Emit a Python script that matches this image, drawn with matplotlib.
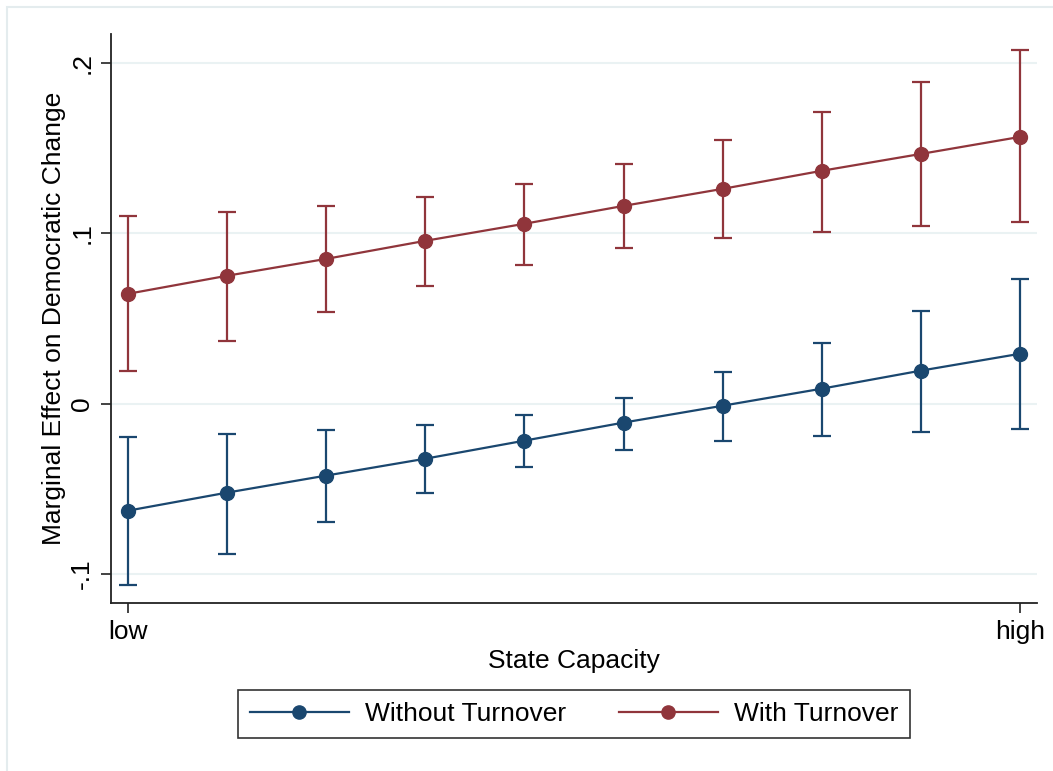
import matplotlib.pyplot as plt
import numpy as np
from matplotlib.patches import Rectangle

plt.rcParams['font.family'] = ['Liberation Sans', 'DejaVu Sans']

# state capacity steps, low -> high
steps = np.arange(10)
tick_pos = [0, 9]
tick_lab = ['low', 'high']

# with turnover (estimate, lower, upper)
with_est = [0.0645, 0.0751, 0.0850, 0.0956, 0.1056, 0.1161, 0.1261, 0.1367, 0.1466, 0.1566]
with_lo = [0.0194, 0.0370, 0.0540, 0.0690, 0.0815, 0.0915, 0.0974, 0.1009, 0.1044, 0.1067]
with_hi = [0.1103, 0.1126, 0.1161, 0.1214, 0.1290, 0.1408, 0.1548, 0.1713, 0.1889, 0.2076]

# without turnover
wo_est = [-0.0628, -0.0522, -0.0422, -0.0323, -0.0217, -0.0111, -0.0012, 0.0088, 0.0194, 0.0293]
wo_lo = [-0.1067, -0.0880, -0.0692, -0.0522, -0.0370, -0.0270, -0.0217, -0.0188, -0.0164, -0.0147]
wo_hi = [-0.0194, -0.0176, -0.0152, -0.0123, -0.0065, 0.0035, 0.0188, 0.0358, 0.0545, 0.0733]

blue = '#1a476f'
red = '#90353b'

fig = plt.figure(figsize=(10.53, 7.71), dpi=100)
ax = fig.add_axes([111/1053, 1-603/771, (1037-111)/1053, (603-34)/771])

# outer graph frame (stata style)
fig.patches.append(Rectangle((7/1053, -0.05), 1.1, 1 - 7/771 + 0.05, transform=fig.transFigure,
                             fill=False, edgecolor='#e4ecee', lw=1.5))

for est, lo, hi, c, lab in [(wo_est, wo_lo, wo_hi, blue, 'Without Turnover'),
                            (with_est, with_lo, with_hi, red, 'With Turnover')]:
    est = np.array(est)
    yerr = [est - np.array(lo), np.array(hi) - est]
    ax.errorbar(steps, est, yerr=yerr, fmt='none', ecolor=c, elinewidth=1.6,
                capsize=6.5, capthick=1.6)
    ax.plot(steps, est, color=c, lw=1.6, marker='o', ms=10, label=lab)

ax.set_xlim(-0.1715, 9.1715)
ax.set_ylim(-0.117, 0.217)
ax.set_yticks([-0.1, 0, 0.1, 0.2])
ax.set_yticklabels(['-.1', '0', '.1', '.2'], rotation=90, va='center')
ax.set_xticks(tick_pos)
ax.set_xticklabels(tick_lab)
ax.tick_params(labelsize=19, length=7, width=1.2, color='#222222', pad=5)
ax.grid(axis='y', color='#eaf2f3', lw=1.5)
ax.set_axisbelow(True)
for s in ['top', 'right']:
    ax.spines[s].set_visible(False)
for s in ['left', 'bottom']:
    ax.spines[s].set_linewidth(1.3)
    ax.spines[s].set_color('#222222')

ax.set_xlabel('State Capacity', fontsize=19, labelpad=4)
ax.set_ylabel('Marginal Effect on Democratic Change', fontsize=19, labelpad=3)

leg = fig.legend(loc='center', bbox_to_anchor=(574/1053, 1-714/771), ncol=2, fontsize=19,
                 frameon=True, fancybox=False, edgecolor='black', handlelength=3.76,
                 handletextpad=0.6, columnspacing=2.0, borderpad=0.45, borderaxespad=0,
                 markerscale=0.95)
leg.get_frame().set_linewidth(1.2)

fig.savefig('out.png', dpi=100)
